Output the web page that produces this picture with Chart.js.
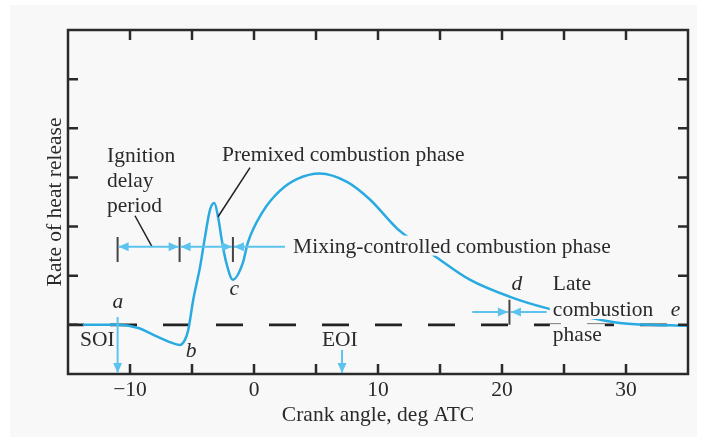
<!DOCTYPE html>
<html>
<head>
<meta charset="utf-8">
<script src="https://cdn.jsdelivr.net/npm/chart.js@4.4.1/dist/chart.umd.min.js"></script>
<style>
  html, body { margin: 0; padding: 0; background: #ffffff; }
</style>
</head>
<body>
<canvas id="myChart" width="711" height="440"></canvas>
<script>
// crank angle (deg ATC) and rate of heat release (arbitrary units)
const angle = [-13.8, -12.5, -11, -9.4, -7.8, -6.8, -6.0, -5.56, -5.3, -4.9, -4.35, -3.95, -3.55, -3.2, -2.9, -2.6, -2.25, -1.7, -0.9, -0.5, 0.7, 2.1, 3.5, 5.3, 7.5, 9.35, 11.5, 12.6, 14.8, 17.4, 20.65, 23.6, 26, 28, 29.5, 31.9, 33.5, 35];
const heatRelease = [0, 0, 0, -0.06, -0.24, -0.35, -0.41, -0.3, -0.1, 0.51, 1.18, 1.79, 2.34, 2.48, 2.2, 1.73, 1.28, 0.92, 1.26, 1.67, 2.3, 2.73, 2.97, 3.08, 2.91, 2.55, 1.97, 1.75, 1.36, 0.92, 0.57, 0.34, 0.21, 0.1, 0.04, 0.0, -0.01, -0.02];

const xTicks = [-10, 0, 10, 20, 30];
const xTickLabels = ['\u221210', '0', '10', '20', '30'];
const minorX = [-10, -5, 0, 5, 10, 15, 20, 25, 30];
const minorY = [0, 1, 2, 3, 4, 5];

// phase markers (deg ATC)
const SOI = -11, ignEnd = -6, premixEnd = -1.7, EOI = 7.1, lateStart = 20.6;

const serif = "'Liberation Serif', 'Times New Roman', serif";
const textColor = '#2a2a2a';
const curveColor = '#29abe2';
const arrowColor = '#5cc3ee';

// text labels placed in data units
const notes = [
	{ t: 'Ignition', x: -11.85, y: 3.32 },
	{ t: 'delay', x: -11.85, y: 2.81 },
	{ t: 'period', x: -11.85, y: 2.30 },
	{ t: 'Premixed combustion phase', x: -2.58, y: 3.34 },
	{ t: 'Mixing-controlled combustion phase', x: 3.15, y: 1.47, mask: true },
	{ t: 'Late', x: 24.1, y: 0.71, mask: true },
	{ t: 'combustion', x: 24.1, y: 0.18, mask: true },
	{ t: 'phase', x: 24.1, y: -0.33, mask: true },
	{ t: 'SOI', x: -14.03, y: -0.43 },
	{ t: 'EOI', x: 5.48, y: -0.43 },
	{ t: 'a', x: -10.97, y: 0.35, it: true },
	{ t: 'b', x: -5.08, y: -0.65, it: true },
	{ t: 'c', x: -1.6, y: 0.61, it: true },
	{ t: 'd', x: 21.2, y: 0.71, it: true },
	{ t: 'e', x: 34.0, y: 0.18, it: true }
];

const curve = angle.map((a, i) => ({ x: a, y: heatRelease[i] }));

function arrowHead(ctx, x1, y1, x2, y2) {
	const ang = Math.atan2(y2 - y1, x2 - x1);
	const len = 10, hw = 4.5;
	ctx.beginPath();
	ctx.moveTo(x2, y2);
	ctx.lineTo(x2 - len * Math.cos(ang) + hw * Math.sin(ang), y2 - len * Math.sin(ang) - hw * Math.cos(ang));
	ctx.lineTo(x2 - len * Math.cos(ang) - hw * Math.sin(ang), y2 - len * Math.sin(ang) + hw * Math.cos(ang));
	ctx.closePath();
	ctx.fill();
}

function arrow(ctx, x1, y1, x2, y2, both) {
	ctx.beginPath();
	ctx.moveTo(x1, y1);
	ctx.lineTo(x2, y2);
	ctx.stroke();
	arrowHead(ctx, x1, y1, x2, y2);
	if (both) arrowHead(ctx, x2, y2, x1, y1);
}

const backdrop = {
	id: 'backdrop',
	beforeDraw(chart) {
		const ctx = chart.ctx;
		ctx.save();
		ctx.fillStyle = '#f8f8f8';
		ctx.fillRect(10, 5, 687, 432);
		ctx.restore();
	}
};

const annotate = {
	id: 'annotate',
	afterDatasetsDraw(chart) {
		const { ctx, chartArea: a, scales: { x, y } } = chart;
		const px = v => x.getPixelForValue(v);
		const py = v => y.getPixelForValue(v);
		ctx.save();

		// frame and inward ticks
		ctx.strokeStyle = '#2a2a2a';
		ctx.lineWidth = 2.5;
		ctx.strokeRect(a.left, a.top, a.right - a.left, a.bottom - a.top);
		ctx.beginPath();
		minorX.forEach(v => {
			ctx.moveTo(px(v), a.bottom); ctx.lineTo(px(v), a.bottom - 10);
			ctx.moveTo(px(v), a.top); ctx.lineTo(px(v), a.top + 10);
		});
		minorY.forEach(v => {
			ctx.moveTo(a.left, py(v)); ctx.lineTo(a.left + 10, py(v));
			ctx.moveTo(a.right, py(v)); ctx.lineTo(a.right - 10, py(v));
		});
		ctx.stroke();

		// text
		ctx.textBaseline = 'alphabetic';
		ctx.textAlign = 'left';
		notes.forEach(n => {
			ctx.font = (n.it ? 'italic ' : '') + '21.5px ' + serif;
			const w = ctx.measureText(n.t).width;
			let tx = px(n.x);
			if (n.it) tx -= w / 2;
			const ty = py(n.y);
			if (n.mask) {
				ctx.fillStyle = '#f8f8f8';
				ctx.fillRect(tx - 3, ty - 17, w + 6, 20);
			}
			ctx.fillStyle = textColor;
			ctx.fillText(n.t, tx, ty);
		});

		// phase bars
		ctx.strokeStyle = '#444';
		ctx.lineWidth = 2;
		ctx.beginPath();
		[SOI, ignEnd, premixEnd].forEach(v => {
			ctx.moveTo(px(v), py(1.79)); ctx.lineTo(px(v), py(1.28));
		});
		ctx.moveTo(px(lateStart), py(0.51)); ctx.lineTo(px(lateStart), py(0));
		ctx.stroke();

		// leader lines
		ctx.strokeStyle = '#222';
		ctx.lineWidth = 1.5;
		ctx.beginPath();
		ctx.moveTo(px(-9.6), py(2.22)); ctx.lineTo(px(-8.23), py(1.59));
		ctx.moveTo(px(-0.32), py(3.2)); ctx.lineTo(px(-2.9), py(2.2));
		ctx.stroke();

		// blue arrows
		ctx.strokeStyle = arrowColor;
		ctx.fillStyle = arrowColor;
		ctx.lineWidth = 2;
		const ay = py(1.59);
		arrow(ctx, px(SOI) + 1, ay, px(ignEnd) - 1, ay, true);
		arrow(ctx, px(ignEnd) + 1, ay, px(premixEnd) - 1, ay, true);
		arrow(ctx, px(2.5), ay, px(premixEnd) + 1, ay, false);
		arrow(ctx, px(SOI), py(0.16), px(SOI), a.bottom - 1, false);
		arrow(ctx, px(EOI), py(-0.51), px(EOI), a.bottom - 1, false);
		const dy = py(0.26);
		arrow(ctx, px(17.6), dy, px(lateStart) - 1.5, dy, false);
		arrow(ctx, px(23.6), dy, px(lateStart) + 1.5, dy, false);

		ctx.restore();
	}
};

window.addEventListener("load", function() {
	const ctx = document.getElementById('myChart').getContext('2d');

	let myChart = new Chart(ctx, {
		type: 'line',
		data: {
			datasets: [
				{
					label: 'Rate of heat release',
					data: curve,
					borderColor: curveColor,
					borderWidth: 2.5,
					pointRadius: 0,
					cubicInterpolationMode: 'monotone',
					fill: false
				},
				{
					label: 'zero',
					data: [{ x: -15, y: 0 }, { x: 35, y: 0 }],
					borderColor: '#222',
					borderWidth: 2.8,
					borderDash: [27, 26],
					borderDashOffset: 11,
					pointRadius: 0,
					fill: false
				}
			]
		},
		options: {
			responsive: false,
			animation: false,
			devicePixelRatio: 1,
			layout: { padding: { top: 30, right: 23, left: 0, bottom: 0 } },
			plugins: { legend: { display: false }, tooltip: { enabled: false } },
			scales: {
				x: {
					type: 'linear',
					min: -15,
					max: 35,
					afterBuildTicks: s => { s.ticks = xTicks.map(v => ({ value: v })); },
					afterFit: s => { s.height = 66; },
					grid: { display: false, drawTicks: false },
					border: { display: false },
					ticks: {
						padding: 3,
						maxRotation: 0,
						autoSkip: false,
						color: textColor,
						font: { family: serif, size: 21.5 },
						callback: v => xTickLabels[xTicks.indexOf(v)]
					},
					title: {
						display: true,
						text: 'Crank angle, deg ATC',
						color: textColor,
						font: { family: serif, size: 21.5 },
						padding: { top: 0, bottom: 12 }
					}
				},
				y: {
					type: 'linear',
					min: -1,
					max: 6,
					afterFit: s => { s.width = 68; },
					grid: { display: false, drawTicks: false },
					border: { display: false },
					ticks: { display: false },
					title: {
						display: true,
						text: 'Rate of heat release',
						color: textColor,
						font: { family: serif, size: 21.5 },
						padding: { top: 42, bottom: 0 }
					}
				}
			}
		},
		plugins: [backdrop, annotate]
	});
})
</script>
</body>
</html>
